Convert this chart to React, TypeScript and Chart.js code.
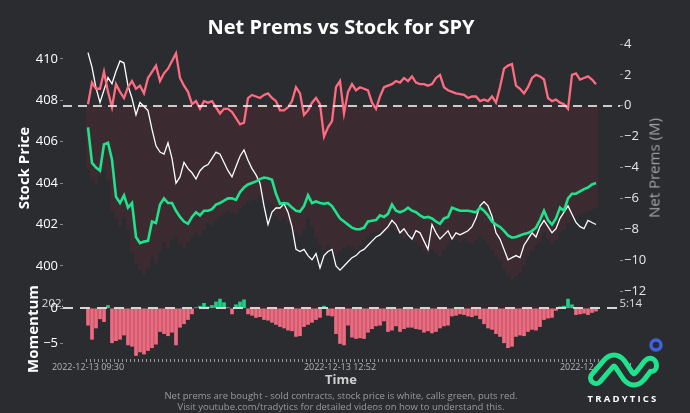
import React, { useEffect, useRef } from "react";
import { Chart, registerables } from "chart.js";

Chart.register(...registerables);

const BG = "#2b2c30";
const PINK = "#ff6b80";
const GREEN = "#1ee38c";
const NET_BAR_COLOR = "rgba(120, 42, 58, 0.26)";
const MOM_NEG = "#ef6b7f";
const MOM_POS = "#1fcf85";
const FONT = "'Open Sans', 'DejaVu Sans', sans-serif";

const TIME_LABELS = ["2022-12-13 09:30", "2022-12-13 12:52", "2022-12-13 15:14"];
const TIME_TICK_INDEX = [0, 63, 127];
const STOCK_TICKS = [400, 402, 404, 406, 408, 410];
const PREM_TICKS = [-12, -10, -8, -6, -4, -2, 0, 2, 4];
const MOM_TICKS = [-5, 0];

// Stock price (white line, left axis)
const STOCK = [
  410.3, 409.6, 408.6, 407.9, 408.5, 409.1, 408.8, 409.4,
  409.9, 409.8, 408.7, 408.1, 407.3, 407.9, 407.7, 407.5,
  406.6, 405.8, 405.5, 405.4, 405.95, 405.2, 404.0, 404.3,
  405.0, 404.7, 404.5, 404.2, 404.6, 404.8, 404.9, 405.2,
  405.5, 405.4, 405.0, 404.6, 404.3, 404.8, 405.3, 405.6,
  405.1, 404.7, 404.4, 404.0, 402.9, 402.0, 402.6, 402.8,
  402.8, 403.0, 402.6, 401.9, 400.8, 400.7, 400.8, 400.5,
  400.3, 400.6, 399.9, 400.5, 400.7, 400.8, 400.0, 399.8,
  400.0, 400.2, 400.4, 400.5, 400.7, 400.8, 401.0, 401.2,
  401.4, 401.5, 401.7, 401.9, 402.2, 402.0, 401.6, 401.8,
  401.5, 401.3, 401.7, 401.6, 401.2, 400.8, 402.0, 401.6,
  401.3, 401.5, 401.7, 401.3, 401.6, 401.5, 401.6, 401.7,
  401.9, 402.3, 402.9, 403.1, 402.9, 402.4, 401.6, 401.3,
  400.8, 400.3, 400.4, 400.5, 400.4, 401.0, 401.3, 401.6,
  401.4, 401.9, 402.2, 401.9, 401.6, 401.8, 402.3, 402.6,
  402.9, 402.5, 402.1, 401.9, 401.8, 402.2, 402.1, 402.0,
];

// Puts net premium (red line, right axis, millions)
const PUTS = [
  0.1, 1.5, 1.1, 1.1, 2.2, 0.9, -0.1, 1.4,
  0.9, 0.5, 1.2, 1.6, 1.1, 1.3, 0.8, 1.8,
  2.2, 2.6, 1.6, 2.1, 2.4, 2.9, 3.4, 1.8,
  1.3, 0.9, 0.1, 0.3, -0.2, 0.3, 0.2, 0.3,
  -0.1, -0.5, -0.2, -0.2, -0.4, -0.8, -1.2, -1.1,
  0.5, 0.7, 0.6, 0.5, 0.7, 0.8, 0.5, 0.3,
  -0.3, -0.3, -0.1, 0.3, 1.2, 0.8, -0.6, -0.3,
  0.2, 0.5, 0.1, -2.0, -1.4, -1.0, 1.2, 1.6,
  -0.5, 0.9, 1.4, 1.0, 1.2, 1.1, 1.0, 0.2,
  -0.2, 0.6, 1.2, 1.3, 1.4, 1.6, 1.5, 1.8,
  1.6, 1.9, 1.5, 1.4, 1.4, 1.3, 1.4, 1.8,
  2.0, 1.2, 1.0, 0.9, 0.8, 0.75, 0.7, 0.5,
  0.6, 0.6, 0.3, 0.4, 0.3, 0.6, 0.2, 1.2,
  2.4, 2.6, 2.7, 1.3, 1.1, 0.8, 1.2, 1.8,
  2.0, 1.9, 1.7, 0.5, 0.3, 0.4, 0.2, 0.1,
  -0.2, 2.0, 2.1, 1.7, 1.8, 1.9, 1.7, 1.4,
];

// Calls net premium (green line, right axis, millions)
const CALLS = [
  -1.4, -3.7, -4.0, -4.2, -2.5, -2.4, -3.5, -5.9,
  -6.3, -5.8, -6.6, -6.3, -8.5, -8.9, -8.8, -8.75,
  -7.5, -7.6, -6.4, -6.0, -6.3, -6.3, -6.8, -7.2,
  -7.5, -7.65, -7.2, -6.9, -7.1, -6.8, -6.8, -6.7,
  -6.4, -6.3, -6.15, -6.0, -6.0, -6.1, -5.6, -5.3,
  -5.1, -5.0, -4.9, -4.75, -4.65, -4.7, -4.8, -5.7,
  -6.35, -6.3, -6.35, -6.6, -6.8, -6.85, -6.5, -5.8,
  -6.3, -6.2, -6.3, -6.35, -6.3, -6.5, -6.9, -7.3,
  -7.5, -7.7, -7.9, -8.0, -8.0, -7.9, -7.5, -7.45,
  -7.4, -7.1, -7.2, -7.0, -6.4, -6.8, -6.9, -6.8,
  -6.6, -6.8, -6.9, -7.1, -7.25, -7.2, -7.3, -7.5,
  -7.65, -7.3, -7.2, -6.6, -6.7, -6.8, -6.8, -6.8,
  -6.85, -6.9, -6.6, -6.8, -7.1, -7.5, -7.7, -7.85,
  -8.1, -8.4, -8.55, -8.5, -8.4, -8.3, -8.25, -8.1,
  -7.9, -7.4, -6.8, -7.4, -7.7, -7.3, -6.6, -6.8,
  -6.0, -5.7, -5.7, -5.55, -5.4, -5.3, -5.1, -5.0,
];

// Net premium bars (dark red background bars, right axis)
const NET_BARS = [
  -4.0, -4.8, -5.0, -4.5, -4.2, -4.8, -6.8, -7.3,
  -7.8, -7.2, -8.0, -9.5, -10.2, -10.6, -10.9, -10.5,
  -9.8, -10.2, -9.4, -8.8, -9.2, -8.6, -8.4, -8.9,
  -9.2, -8.8, -8.5, -8.2, -8.4, -8.0, -7.6, -7.7,
  -7.4, -7.2, -7.0, -6.8, -6.9, -7.0, -6.6, -6.4,
  -6.2, -6.1, -6.0, -5.8, -5.9, -6.1, -6.3, -7.1,
  -7.4, -7.3, -7.6, -7.9, -8.2, -8.4, -8.0, -7.2,
  -7.8, -8.5, -9.0, -9.3, -9.0, -9.2, -9.6, -9.4,
  -9.2, -9.0, -9.1, -9.3, -9.0, -8.7, -8.4, -8.2,
  -8.1, -8.0, -8.2, -8.1, -7.8, -8.1, -8.3, -8.6,
  -8.2, -8.4, -8.8, -9.1, -9.4, -9.6, -9.3, -9.5,
  -9.7, -9.3, -9.0, -8.5, -8.7, -8.8, -8.6, -8.8,
  -8.9, -8.7, -8.4, -8.6, -8.9, -9.3, -9.7, -10.0,
  -10.6, -11.0, -11.2, -11.0, -10.8, -10.3, -9.8, -9.4,
  -9.0, -8.8, -8.2, -8.6, -8.9, -8.7, -8.2, -8.0,
  -7.6, -7.2, -7.1, -7.0, -6.9, -6.8, -6.7, -6.6,
];

// Momentum (bottom panel)
const MOMENTUM = [
  -2.4, -4.4, -2.8, -1.5, -1.9, 0.4, -4.9, -4.6,
  -4.4, -3.8, -5.2, -5.4, -6.7, -6.2, -6.5, -6.0,
  -5.6, -5.1, -3.3, -3.6, -3.9, -3.4, -5.2, -2.7,
  -2.2, -1.6, -0.8, 0.1, 0.3, 0.7, 0.2, 0.4,
  0.9, 1.3, 0.8, 0.1, -0.8, 0.5, 0.9, 1.2,
  -0.8, -1.0, -1.3, -1.2, -1.6, -1.7, -2.0, -2.3,
  -2.6, -2.8, -3.1, -3.2, -4.0, -3.9, -2.6, -2.3,
  -2.0, -1.6, -1.3, 0.3, -1.0, -1.1, -3.6, -5.0,
  -5.2, -2.4, -4.1, -4.3, -4.2, -4.3, -3.4, -2.9,
  -2.5, -2.4, -1.8, -3.3, -3.1, -2.5, -3.3, -2.9,
  -2.7, -2.7, -2.9, -3.0, -3.4, -3.2, -3.5, -3.3,
  -2.8, -2.5, -2.4, -1.1, -1.0, -0.8, -0.9, -1.1,
  -1.2, -1.0, -1.5, -2.2, -2.8, -3.0, -3.6, -4.0,
  -4.9, -5.6, -5.4, -4.0, -3.8, -3.9, -3.3, -3.0,
  -3.1, -2.6, -1.6, -1.4, -1.3, -0.3, 0.2, 0.3,
  1.3, 0.5, -0.9, -0.8, -0.7, -0.9, -0.6, -0.4,
];

const fmt = (v: number) => (v < 0 ? "\u2212" + Math.abs(v) : String(v));
const pts = (arr: number[]) => arr.map((y, x) => ({ x, y }));
const timeLabel = (v: number) => {
  const k = TIME_TICK_INDEX.indexOf(v);
  return k >= 0 ? TIME_LABELS[k] : "";
};

const zeroLine = (id: string, axis: string, color: string, width: number, dash: number[]) => ({
  id,
  afterDatasetsDraw(chart: any) {
    const { ctx, chartArea } = chart;
    const y = Math.round(chart.scales[axis].getPixelForValue(0));
    ctx.save();
    ctx.strokeStyle = color;
    ctx.lineWidth = width;
    ctx.setLineDash(dash);
    ctx.beginPath();
    ctx.moveTo(chartArea.left, y);
    ctx.lineTo(chartArea.right, y);
    ctx.stroke();
    ctx.restore();
  },
});

const coverPlugin = {
  id: "cover",
  beforeDraw(chart: any) {
    const { ctx, chartArea } = chart;
    ctx.save();
    ctx.fillStyle = BG;
    ctx.fillRect(chartArea.left, chartArea.top - 2, chartArea.right - chartArea.left, chartArea.bottom - chartArea.top + 2);
    ctx.restore();
  },
};

const X_MIN = -6.25;
const X_MAX = 133;

export default function App() {
  const mainRef = useRef<HTMLCanvasElement>(null);
  const momRef = useRef<HTMLCanvasElement>(null);

  useEffect(() => {
    Chart.defaults.font.family = FONT;
    const main = new Chart(mainRef.current as HTMLCanvasElement, {
      type: "bar",
      data: {
        datasets: [
          { type: "line", label: "Calls", data: pts(CALLS), yAxisID: "y1", borderColor: GREEN, borderWidth: 2.6, pointRadius: 0, order: 1 } as any,
          { type: "line", label: "Puts", data: pts(PUTS), yAxisID: "y1", borderColor: PINK, borderWidth: 2.3, pointRadius: 0, order: 2 } as any,
          { type: "line", label: "Stock", data: pts(STOCK), yAxisID: "y", borderColor: "#ffffff", borderWidth: 1.3, pointRadius: 0, order: 3 } as any,
          { type: "bar", label: "Net", data: pts(NET_BARS), yAxisID: "y1", backgroundColor: NET_BAR_COLOR, barThickness: 3, order: 4 } as any,
        ],
      },
      options: {
        responsive: false,
        animation: false,
        devicePixelRatio: 1,
        layout: { padding: { top: 44, bottom: 92, left: 0, right: 0 } },
        plugins: { legend: { display: false }, tooltip: { enabled: false }, title: { display: false } },
        scales: {
          x: {
            type: "linear",
            offset: false,
            min: X_MIN,
            max: X_MAX,
            afterBuildTicks: (s: any) => { s.ticks = TIME_TICK_INDEX.map((v) => ({ value: v })); },
            afterFit: (s: any) => { s.height = 30; s.paddingLeft = 0; s.paddingRight = 0; },
            ticks: { display: false },
            grid: { display: false },
            border: { display: false },
          },
          y: {
            type: "linear",
            position: "left",
            min: 398.79,
            max: 410.72,
            afterBuildTicks: (s: any) => { s.ticks = STOCK_TICKS.map((v) => ({ value: v })); },
            afterFit: (s: any) => { s.width = 63; },
            ticks: { callback: (v: any) => fmt(v), color: "#ffffff", font: { size: 13 }, padding: 2 },
            grid: { drawOnChartArea: false, tickLength: 3, color: "#888888" },
            border: { display: false },
          },
          y1: {
            type: "linear",
            position: "right",
            min: -12,
            max: 4,
            afterBuildTicks: (s: any) => { s.ticks = PREM_TICKS.map((v) => ({ value: v })); },
            afterFit: (s: any) => { s.width = 70; },
            ticks: { callback: (v: any) => fmt(v), color: "#e6e6e6", font: { size: 13 }, padding: 1 },
            grid: { drawOnChartArea: false, tickLength: 3, color: "#888888" },
            border: { display: false },
          },
        },
      } as any,
      plugins: [zeroLine("zeroMain", "y1", "#ffffff", 1.6, [9, 6])],
    });

    const mom = new Chart(momRef.current as HTMLCanvasElement, {
      type: "bar",
      data: {
        datasets: [
          {
            label: "Momentum",
            data: pts(MOMENTUM),
            backgroundColor: MOMENTUM.map((v) => (v >= 0 ? MOM_POS : MOM_NEG)),
            barThickness: 3,
          } as any,
        ],
      },
      options: {
        responsive: false,
        animation: false,
        devicePixelRatio: 1,
        layout: { padding: { top: 297, bottom: 34, left: 0, right: 70 } },
        plugins: { legend: { display: false }, tooltip: { enabled: false }, title: { display: false } },
        scales: {
          x: {
            type: "linear",
            offset: false,
            min: X_MIN,
            max: X_MAX,
            afterBuildTicks: (s: any) => { s.ticks = MOMENTUM.map((_, i) => ({ value: i })); },
            afterFit: (s: any) => { s.height = 20; },
            ticks: { callback: (v: any) => timeLabel(v), autoSkip: false, maxRotation: 0, color: "#b5b5b5", font: { size: 9 }, padding: 0 },
            grid: { drawOnChartArea: false, tickLength: 3, color: "#9a9a9a" },
            border: { display: false },
          },
          y: {
            type: "linear",
            position: "left",
            min: -7.2,
            max: 1.6,
            afterBuildTicks: (s: any) => { s.ticks = MOM_TICKS.map((v) => ({ value: v })); },
            afterFit: (s: any) => { s.width = 63; },
            ticks: { callback: (v: any) => fmt(v), color: "#ffffff", font: { size: 13 }, padding: 2 },
            grid: { drawOnChartArea: false, tickLength: 3, color: "#888888" },
            border: { display: false },
          },
        },
      } as any,
      plugins: [coverPlugin, zeroLine("zeroMom", "y", "#d6d6d6", 2, [10, 7])],
    });

    return () => {
      main.destroy();
      mom.destroy();
    };
  }, []);

  const abs: React.CSSProperties = { position: "absolute", left: 0, top: 0 };
  const centered = (x: number, y: number, extra: React.CSSProperties, rotate = false): React.CSSProperties => ({
    position: "absolute",
    left: x,
    top: y,
    transform: `translate(-50%, -50%)${rotate ? " rotate(-90deg)" : ""}`,
    whiteSpace: "nowrap",
    fontFamily: FONT,
    lineHeight: 1,
    ...extra,
  });

  return (
    <div style={{ position: "fixed", left: 0, top: 0, width: 690, height: 413, background: BG, overflow: "hidden" }}>
      <canvas ref={mainRef} width={690} height={413} style={{ ...abs, width: 690, height: 413 }} />
      {TIME_LABELS.map((t, k) => (
        <div key={t} style={centered(88 + 4 * TIME_TICK_INDEX[k], 303, { color: "#dddddd", fontSize: 11.5 })}>{t}</div>
      ))}
      <canvas ref={momRef} width={690} height={413} style={{ ...abs, width: 690, height: 413 }} />
      <div style={centered(341, 27, { color: "#ffffff", fontSize: 20, fontWeight: 700 })}>Net Prems vs Stock for SPY</div>
      <div style={centered(23, 168, { color: "#ffffff", fontSize: 15, fontWeight: 700 }, true)}>Stock Price</div>
      <div style={centered(654, 168, { color: "#a3a3a3", fontSize: 15, fontWeight: 400 }, true)}>Net Prems (M)</div>
      <div style={centered(32, 329, { color: "#ffffff", fontSize: 15, fontWeight: 700 }, true)}>Momentum</div>
      <div style={centered(341, 379, { color: "#cfcfcf", fontSize: 13, fontWeight: 700 })}>Time</div>
      <div style={centered(341, 396, { color: "#9a9a9a", fontSize: 9.5 })}>Net prems are bought - sold contracts, stock price is white, calls green, puts red.</div>
      <div style={centered(341, 407, { color: "#9a9a9a", fontSize: 9.5 })}>Visit youtube.com/tradytics for detailed videos on how to understand this.</div>
      <svg width={690} height={413} style={{ ...abs, pointerEvents: "none" }}>
        <path d="M596,378 L608,364 Q614,357 620,364 L628,376 Q634,383 640,376 L647,367 Q651,361 651,366" fill="none" stroke={GREEN} strokeWidth={16} strokeLinecap="round" strokeLinejoin="round" />
        <path d="M596,378 L608,364 Q614,357 620,364 L628,376 Q634,383 640,376 L647,367 Q651,361 651,366" fill="none" stroke={BG} strokeWidth={6} strokeLinecap="round" strokeLinejoin="round" />
        <circle cx={656} cy={345} r={5} fill="none" stroke="#3d63e0" strokeWidth={3.5} />
      </svg>
      <div style={centered(623, 399, { color: "#ffffff", fontSize: 9.5, fontWeight: 700, letterSpacing: 2.2 })}>TRADYTICS</div>
    </div>
  );
}
